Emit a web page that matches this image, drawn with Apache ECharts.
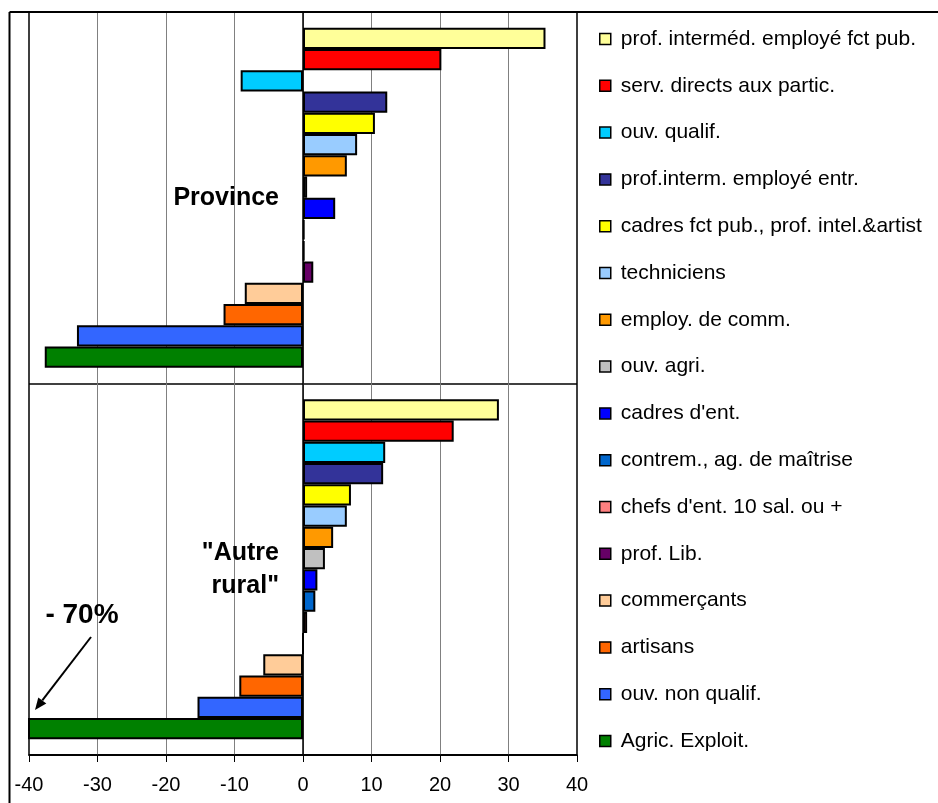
<!DOCTYPE html>
<html>
<head>
<meta charset="utf-8">
<script src="https://cdn.jsdelivr.net/npm/echarts@6/dist/echarts.min.js"></script>
<style>
html, body { margin: 0; padding: 0; background: #fff; }
#chart { width: 938px; height: 803px; }
</style>
</head>
<body>
<div id="chart"></div>
<script>
// ---- data ----
const categories = ['Province', '"Autre rural"'];
const seriesNames = [
  'prof. interméd. employé fct pub.',
  'serv. directs aux partic.',
  'ouv. qualif.',
  'prof.interm. employé entr.',
  'cadres fct pub., prof. intel.&artist',
  'techniciens',
  'employ. de comm.',
  'ouv. agri.',
  "cadres d'ent.",
  'contrem., ag. de maîtrise',
  "chefs d'ent. 10 sal. ou +",
  'prof. Lib.',
  'commerçants',
  'artisans',
  'ouv. non qualif.',
  'Agric. Exploit.'
];
const provinceValues = [35.4, 20.2, -9.1, 12.3, 10.5, 7.9, 6.4, 0.6, 4.7, 0.2, 0.2, 1.5, -8.5, -11.6, -33.0, -37.7];
const ruralValues    = [28.6, 22.0, 12.0, 11.7, 7.0, 6.4, 4.4, 3.2, 2.1, 1.8, 0.6, 0, -5.8, -9.3, -15.4, -70];
const xTickLabels = [-40, -30, -20, -10, 0, 10, 20, 30, 40];
const annotationText = '- 70%';

// ---- styles ----
const colors = ['#FFFF99', '#FF0000', '#00CCFF', '#333399', '#FFFF00', '#99CCFF', '#FF9900', '#C0C0C0',
                '#0000FF', '#0066CC', '#FF8080', '#660066', '#FFCC99', '#FF6600', '#3366FF', '#008000'];
const FONT = '"Liberation Sans", Arial, sans-serif';
const GRID_LEFT = 29, GRID_WIDTH = 548;

const chart = echarts.init(document.getElementById('chart'), null, { renderer: 'canvas' });

const series = seriesNames.map((name, i) => ({
  type: 'bar',
  name: name,
  data: [provinceValues[i], ruralValues[i]],
  barGap: '0%',
  barCategoryGap: '8.5%',
  itemStyle: { color: colors[i], borderColor: '#000', borderWidth: 2 },
  emphasis: { disabled: true },
  animation: false
}));

const xMin = xTickLabels[0], xMax = xTickLabels[xTickLabels.length - 1];
// offset that places the category axis (line + labels) at value 0
const zeroOffset = -GRID_WIDTH * (0 - xMin) / (xMax - xMin);

const option = {
  animation: false,
  backgroundColor: '#fff',
  grid: {
    left: GRID_LEFT, top: 12, width: GRID_WIDTH, height: 743,
    containLabel: false, outerBoundsMode: 'none',
    show: true, borderColor: '#000', borderWidth: 1.5, backgroundColor: 'transparent'
  },
  xAxis: {
    type: 'value',
    min: xMin, max: xMax, interval: xTickLabels[1] - xTickLabels[0],
    axisLine: { show: true, onZero: false, lineStyle: { color: '#000', width: 1.5 } },
    axisTick: { show: true, length: 7, inside: false, lineStyle: { color: '#000', width: 1 } },
    axisLabel: { fontSize: 20, color: '#000', fontFamily: FONT, margin: 20 },
    splitLine: { show: true, showMinLine: false, showMaxLine: false, lineStyle: { color: '#808080', width: 1 } }
  },
  yAxis: {
    type: 'category',
    data: categories,
    inverse: true,
    position: 'left',
    offset: zeroOffset,
    axisLine: { show: true, onZero: false, lineStyle: { color: '#000', width: 1.5 } },
    axisTick: { show: false },
    axisLabel: {
      fontSize: 25, fontWeight: 'bold', color: '#000', fontFamily: FONT, margin: 24,
      lineHeight: 33, align: 'right',
      formatter: v => v.replace(' rural', '\nrural')
    },
    splitLine: { show: true, lineStyle: { color: '#000', width: 1.5 } }
  },
  legend: {
    orient: 'vertical',
    left: 599, top: 27,
    padding: 0,
    itemWidth: 11, itemHeight: 11,
    itemGap: 22.8,
    icon: 'rect',
    selectedMode: false,
    data: seriesNames,
    itemStyle: { borderWidth: 1.5, borderColor: '#000' },
    textStyle: { fontSize: 21, color: '#000', fontFamily: FONT, lineHeight: 24, padding: [0, 0, 0, 5] }
  },
  graphic: [
    { type: 'line', shape: { x1: 9.5, y1: 12, x2: 938, y2: 12 }, style: { stroke: '#000', lineWidth: 2 }, z: 100 },
    { type: 'line', shape: { x1: 9.5, y1: 12, x2: 9.5, y2: 803 }, style: { stroke: '#000', lineWidth: 2 }, z: 100 },
    { type: 'text', x: 82, y: 615, style: { text: annotationText, font: 'bold 28px ' + FONT, fill: '#000', align: 'center', verticalAlign: 'middle' }, z: 100 },
    { type: 'line', shape: { x1: 91, y1: 637, x2: 42.3, y2: 700.4 }, style: { stroke: '#000', lineWidth: 2 }, z: 100 },
    { type: 'polygon', shape: { points: [[35, 710], [46.3, 703.4], [38.3, 697.4]] }, style: { fill: '#000' }, z: 100 }
  ],
  series: series
};

chart.setOption(option);
</script>
</body>
</html>
